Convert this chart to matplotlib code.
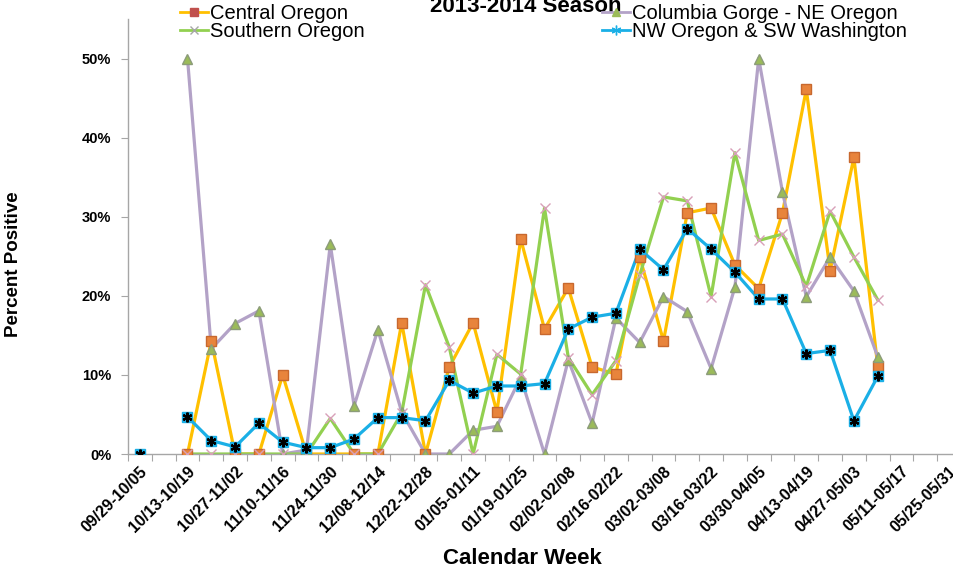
import numpy as np
import matplotlib
matplotlib.use("Agg")
import matplotlib.pyplot as plt
from matplotlib.lines import Line2D
from matplotlib.ticker import PercentFormatter

nan = np.nan

weeks = [
    "09/29-10/05", "10/06-10/12", "10/13-10/19", "10/20-10/26", "10/27-11/02",
    "11/03-11/09", "11/10-11/16", "11/17-11/23", "11/24-11/30", "12/01-12/07",
    "12/08-12/14", "12/15-12/21", "12/22-12/28", "12/29-01/04", "01/05-01/11",
    "01/12-01/18", "01/19-01/25", "01/26-02/01", "02/02-02/08", "02/09-02/15",
    "02/16-02/22", "02/23-03/01", "03/02-03/08", "03/09-03/15", "03/16-03/22",
    "03/23-03/29", "03/30-04/05", "04/06-04/12", "04/13-04/19", "04/20-04/26",
    "04/27-05/03", "05/04-05/10", "05/11-05/17", "05/18-05/24", "05/25-05/31",
]

# percent positive per week
central = [nan, nan, 0, 14.3, 0, 0, 10.0, 0, 0, 0, 0, 16.6, 0, 11.0, 16.6, 5.3,
           27.2, 15.8, 21.0, 11.0, 10.1, 24.9, 14.3, 30.5, 31.1, 23.9, 20.9, 30.5,
           46.1, 23.2, 37.5, 11.1, nan, nan, nan]
columbia = [nan, nan, 50.0, 13.3, 16.5, 18.1, 0, 0.5, 26.5, 6.1, 15.7, 5.3, 0, 0,
            3.0, 3.5, 9.7, 0, 11.9, 3.9, 17.2, 14.1, 19.9, 18.0, 10.8, 21.1, 50.0,
            33.1, 19.9, 24.9, 20.6, 12.3, nan, nan, nan]
southern = [nan, nan, 0, 0, 0, 0, 0, 0, 4.5, 0, 0, 5.2, 21.4, 13.5, 0, 12.6, 10.1,
            31.1, 12.2, 7.5, 11.8, 22.6, 32.5, 32.0, 19.9, 38.1, 27.0, 27.8, 21.2,
            30.7, 24.9, 19.5, nan, nan, nan]
nw = [0, nan, 4.7, 1.7, 0.9, 3.9, 1.5, 0.8, 0.8, 1.9, 4.6, 4.6, 4.2, 9.3, 7.7, 8.6,
      8.6, 8.9, 15.8, 17.3, 17.8, 25.9, 23.3, 28.5, 25.9, 23.0, 19.6, 19.6, 12.7,
      13.1, 4.2, 9.8, nan, nan, nan]

FONT = "Liberation Sans"
W, H = 954, 571


def main():
    plt.rcParams["font.family"] = FONT
    fig = plt.figure(figsize=(W / 100, H / 100), dpi=100)
    # plot area in pixels: left 128, right ~961 (cut off), y0 at 454, top at 19
    ax = fig.add_axes([128 / W, (H - 454) / H, 833 / W, 435 / H])
    x = np.arange(len(weeks))

    series = [
        # values, line colour, marker, face, edge, size
        (central, "#FFC000", "s", "#E8843C", "#C8682E", 7),
        (columbia, "#B3A2C7", "^", "#9BBB59", "#8C9C7A", 7),
        (southern, "#92D050", "x", "#D8A0B8", "#D8A0B8", 7),
    ]
    for vals, lc, mk, fc, ec, ms in series:
        ax.plot(x, vals, color=lc, linewidth=2.3, zorder=2)
    ax.plot(x, nw, color="#1AAFE6", linewidth=2.3, zorder=2)
    for vals, lc, mk, fc, ec, ms in series:
        ax.plot(x, vals, linestyle="none", marker=mk, markersize=ms,
                markerfacecolor=fc, markeredgecolor=ec, markeredgewidth=1.0, zorder=3)
    ax.plot(x, nw, linestyle="none", marker="s", markersize=6.5,
            markerfacecolor="#1AAFE6", markeredgecolor="#1AAFE6", zorder=4)
    ax.plot(x, nw, linestyle="none", marker=(6, 2, 0), markersize=7,
            markeredgecolor="black", markeredgewidth=1.6, zorder=5)

    ax.set_xlim(-0.5, len(weeks) - 0.5)
    ax.set_ylim(0, 55)
    ax.set_yticks(np.arange(0, 51, 10))
    ax.yaxis.set_major_formatter(PercentFormatter(decimals=0))
    ax.set_xticks(np.arange(-0.5, len(weeks), 1))
    ax.set_xticklabels([])
    ax.set_xticks(x[::2], minor=True)
    ax.set_xticklabels(weeks[::2], minor=True, rotation=45, ha="right",
                       rotation_mode="anchor", fontsize=11.5, fontweight="bold")
    ax.tick_params(axis="x", which="major", length=5, color="#A6A6A6", direction="out")
    ax.tick_params(axis="x", which="minor", length=0, pad=7)
    ax.tick_params(axis="y", length=5, color="#A6A6A6", pad=7)
    for lab in ax.get_yticklabels():
        lab.set_fontweight("bold")
        lab.set_fontsize(10.5)
    for s in ("top", "right"):
        ax.spines[s].set_visible(False)
    for s in ("left", "bottom"):
        ax.spines[s].set_color("#A6A6A6")
        ax.spines[s].set_linewidth(1.0)

    ax.set_ylabel("Percent Positive", fontsize=13.5, fontweight="bold")
    ax.yaxis.set_label_coords(-0.127, 0.437)
    fig.text(522 / W, 1 - 558 / H, "Calendar Week", ha="center", va="center",
             fontsize=16, fontweight="bold")
    fig.text(526 / W, 1 - 12 / H, "2013-2014 Season", ha="center", va="baseline",
             fontsize=16, fontweight="bold")

    h_central = Line2D([], [], color="#FFC000", lw=2, marker="s", ms=6,
                       mfc="#C0504D", mec="#C0504D")
    h_southern = Line2D([], [], color="#92D050", lw=2, marker="x", ms=6,
                        mec="#A6A6A6")
    h_columbia = Line2D([], [], color="#B3A2C7", lw=2, marker="^", ms=6,
                        mfc="#9BBB59", mec="#9BBB59")
    h_nw = Line2D([], [], color="#1AAFE6", lw=2, marker=(6, 2, 0), ms=7,
                  mec="#1AAFE6")
    leg_kw = dict(frameon=False, loc="upper left", fontsize=14.5, borderpad=0,
                  borderaxespad=0, handlelength=1.4, handletextpad=0.1,
                  labelspacing=-0.05)
    fig.legend([h_central, h_southern], ["Central Oregon", "Southern Oregon"],
               bbox_to_anchor=(180 / W, 1 - 4 / H), **leg_kw)
    fig.legend([h_columbia, h_nw], ["Columbia Gorge - NE Oregon", "NW Oregon & SW Washington"],
               bbox_to_anchor=(602 / W, 1 - 4 / H), **leg_kw)

    fig.savefig("out.png", dpi=100)
    plt.close(fig)


if __name__ == "__main__":
    main()
